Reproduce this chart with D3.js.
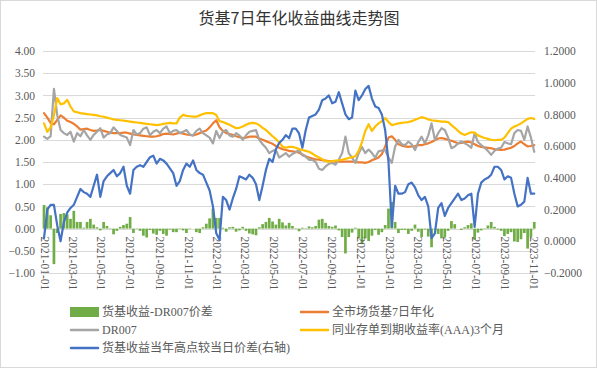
<!DOCTYPE html>
<html><head><meta charset="utf-8">
<script src="https://cdn.jsdelivr.net/npm/d3@7"></script>
<style>
html,body{margin:0;padding:0;background:#fff;}
svg{display:block;}
</style></head>
<body>
<svg id="chart" width="597" height="368"></svg>
<script>
const title = "货基7日年化收益曲线走势图";
const startDate = "2021-01-01";
const weekCount = 149;
const xTickLabels = ["2021-01-01","2021-03-01","2021-05-01","2021-07-01","2021-09-01","2021-11-01","2022-01-01","2022-03-01","2022-05-01","2022-07-01","2022-09-01","2022-11-01","2023-01-01","2023-03-01","2023-05-01","2023-07-01","2023-09-01","2023-11-01"];
const leftTicks = [-1,-0.5,0,0.5,1,1.5,2,2.5,3,3.5,4];
const rightTicks = [-0.2,0,0.2,0.4,0.6,0.8,1.0,1.2];
const seriesNames = ["货基收益-DR007价差","全市场货基7日年化","DR007","同业存单到期收益率(AAA)3个月","货基收益当年高点较当日价差(右轴)"];
const seriesColors = ["#70AD47","#ED7D31","#A5A5A5","#FFC000","#4472C4"];

// 全市场货基7日年化
const fundYield = [2.60,2.50,2.38,2.35,2.45,2.55,2.50,2.43,2.40,2.36,2.30,2.23,2.24,2.25,2.22,2.20,2.21,2.22,2.20,2.18,
2.16,2.15,2.15,2.15,2.16,2.16,2.14,2.12,2.11,2.10,2.09,2.08,2.07,2.07,2.08,2.10,2.13,2.14,2.13,2.12,
2.14,2.16,2.14,2.12,2.11,2.10,2.12,2.15,2.18,2.21,2.28,2.37,2.44,2.28,2.20,2.15,2.13,2.11,2.08,2.06,
2.04,2.05,2.07,2.07,2.07,2.03,2.00,1.97,1.94,1.91,1.86,1.82,1.79,1.77,1.75,1.74,1.73,1.71,1.67,1.63,
1.60,1.58,1.56,1.55,1.54,1.53,1.52,1.52,1.51,1.51,1.51,1.51,1.51,1.51,1.50,1.49,1.49,1.48,1.50,1.54,
1.57,1.60,1.68,1.85,2.05,2.08,2.00,1.90,1.87,1.85,1.84,1.85,1.86,1.88,1.88,1.90,1.92,1.95,1.99,2.03,
2.04,2.02,2.00,1.98,1.95,1.92,1.93,1.95,1.96,1.94,1.90,1.86,1.84,1.83,1.82,1.81,1.79,1.78,1.77,1.78,
1.80,1.82,1.86,1.92,1.96,1.90,1.85,1.86,1.88];

// DR007
const dr007 = [2.07,2.02,2.08,3.15,2.55,2.22,2.15,2.11,2.18,1.96,2.15,2.08,2.22,2.10,2.00,2.11,2.18,2.26,2.05,2.12,
2.15,2.28,2.20,2.11,2.08,2.05,1.88,2.22,2.12,2.15,2.25,2.28,2.10,2.18,2.22,2.15,2.25,2.30,2.15,2.20,
2.22,2.15,2.18,2.22,2.12,2.10,2.20,2.25,2.15,2.10,2.05,1.92,2.20,2.04,2.18,2.22,2.10,2.07,2.15,2.10,
2.00,2.10,2.18,2.20,2.22,2.00,1.90,1.82,1.70,1.75,1.77,1.60,1.65,1.70,1.62,1.68,1.72,1.77,1.65,1.62,
1.55,1.55,1.50,1.35,1.32,1.40,1.46,1.48,1.44,1.55,1.70,2.07,1.70,1.60,1.48,1.70,1.84,1.70,1.78,1.70,
1.60,1.74,1.76,1.77,1.60,1.48,1.85,2.00,1.90,1.88,1.96,1.90,1.77,1.95,2.07,1.92,2.10,2.37,2.00,2.15,
2.26,2.22,2.05,1.81,1.85,1.92,1.96,1.92,1.88,1.82,2.15,1.95,1.88,1.82,1.75,1.66,1.75,1.80,1.82,1.95,
1.92,1.90,2.15,2.22,2.20,2.00,2.30,2.05,1.73];

// 同业存单到期收益率(AAA)3个月
const ncdYield = [2.37,2.18,2.28,2.55,2.94,2.80,2.82,2.90,2.75,2.64,2.62,2.60,2.59,2.58,2.57,2.56,2.55,2.53,2.52,2.50,
2.48,2.46,2.45,2.44,2.43,2.42,2.41,2.40,2.39,2.38,2.37,2.36,2.35,2.34,2.33,2.34,2.36,2.37,2.38,2.37,
2.37,2.50,2.56,2.54,2.53,2.52,2.52,2.55,2.58,2.60,2.60,2.60,2.56,2.42,2.40,2.37,2.34,2.30,2.26,2.27,
2.30,2.34,2.37,2.38,2.37,2.33,2.27,2.22,2.15,2.08,2.02,1.94,1.85,1.82,1.84,1.84,1.82,1.79,1.77,1.75,
1.73,1.69,1.64,1.60,1.56,1.52,1.51,1.52,1.53,1.54,1.55,1.57,1.59,1.61,1.63,1.75,1.95,2.20,2.35,2.20,
2.30,2.37,2.42,2.49,2.40,2.33,2.35,2.37,2.38,2.39,2.40,2.42,2.45,2.48,2.51,2.49,2.46,2.44,2.43,2.42,
2.41,2.41,2.40,2.33,2.27,2.20,2.14,2.11,2.14,2.17,2.16,2.10,2.07,2.04,2.02,2.00,1.99,2.00,2.00,2.05,
2.15,2.25,2.30,2.33,2.37,2.42,2.47,2.49,2.47];

// 货基收益-DR007价差 (bars, left axis)
const spread = [0.53,0.48,0.30,-0.80,-0.10,0.33,0.35,0.32,0.22,0.40,0.15,0.15,0.02,0.15,0.22,0.09,0.03,-0.04,0.15,0.06,
0.01,-0.13,-0.05,0.04,0.08,0.11,0.26,-0.10,-0.01,-0.05,-0.16,-0.20,-0.03,-0.11,-0.14,-0.05,-0.12,-0.16,-0.02,-0.08,
-0.08,0.01,-0.04,-0.10,-0.01,0.00,-0.08,-0.10,0.03,0.11,0.23,0.45,0.24,0.24,0.02,-0.07,0.03,0.04,-0.07,-0.04,
0.04,-0.05,-0.11,-0.13,-0.15,0.03,0.10,0.15,0.24,0.16,0.09,0.22,0.14,0.07,0.13,0.06,0.01,-0.06,0.02,0.01,
0.05,0.03,0.06,0.20,0.22,0.13,0.06,0.04,0.07,-0.04,-0.19,-0.56,-0.19,-0.09,0.02,-0.21,-0.35,-0.22,-0.28,-0.16,
-0.03,-0.14,-0.08,0.08,0.45,0.60,0.15,-0.10,-0.03,-0.03,-0.12,-0.05,0.09,-0.07,-0.19,-0.02,-0.18,-0.42,-0.01,-0.12,
-0.22,-0.20,-0.05,0.17,0.10,0.00,-0.03,0.03,0.08,0.12,-0.25,-0.09,-0.04,0.01,0.07,0.15,0.04,-0.02,-0.05,-0.17,
-0.12,-0.08,-0.29,-0.30,-0.24,-0.10,-0.45,-0.19,0.15];

// 货基收益当年高点较当日价差 (right axis)
const gapToHigh = [0.02,0.20,0.23,0.23,0.10,0.00,0.12,0.18,0.21,0.23,0.28,0.33,0.31,0.30,0.28,0.35,0.42,0.28,0.38,0.41,
0.43,0.45,0.41,0.43,0.47,0.35,0.30,0.45,0.47,0.48,0.47,0.50,0.53,0.54,0.49,0.52,0.51,0.49,0.46,0.43,
0.35,0.38,0.45,0.49,0.47,0.51,0.45,0.43,0.42,0.37,0.32,0.22,0.05,0.01,0.28,0.26,0.20,0.27,0.33,0.41,
0.40,0.39,0.42,0.40,0.36,0.26,0.35,0.45,0.52,0.50,0.58,0.62,0.64,0.67,0.65,0.71,0.71,0.68,0.59,0.70,
0.78,0.79,0.80,0.83,0.89,0.90,0.92,0.87,0.88,0.94,0.87,0.80,0.77,0.78,0.95,0.89,0.92,0.96,0.98,0.90,
0.85,0.84,0.80,0.70,0.50,0.09,0.35,0.30,0.30,0.31,0.36,0.37,0.34,0.29,0.26,0.28,0.22,0.02,0.05,0.21,
0.24,0.16,0.21,0.24,0.27,0.30,0.26,0.27,0.29,0.30,0.09,0.30,0.37,0.39,0.40,0.42,0.47,0.47,0.45,0.39,
0.41,0.40,0.30,0.22,0.23,0.25,0.40,0.30,0.30];

const parse = d3.timeParse("%Y-%m-%d");
const t0 = parse(startDate);
const dates = d3.range(weekCount).map(i => d3.timeDay.offset(t0, 7 * i));

const svg = d3.select("#chart");
const W = 597, H = 368;
const plot = {left: 43, right: 535, top: 51, bottom: 273};

svg.append("rect").attr("x",0.5).attr("y",0.5).attr("width",W-1).attr("height",H-1)
  .attr("fill","#fff").attr("stroke","#d9d9d9");

const x = d3.scaleTime().domain([parse("2021-01-01"), parse("2023-11-01")]).range([44, 533.3]);
const yL = d3.scaleLinear().domain([-1, 4]).range([plot.bottom, plot.top]);
const yR = d3.scaleLinear().domain([-0.2, 1.2]).range([plot.bottom, plot.top]);

const axisFont = "'Liberation Serif','Times New Roman','Noto Sans CJK SC',serif";
const textColor = "#595959";

// title
svg.append("text").attr("x", 299).attr("y", 24).attr("text-anchor","middle")
  .attr("font-family","'Noto Sans CJK SC',sans-serif").attr("font-size",16)
  .attr("fill","#333").text(title);

// gridlines
svg.append("g").selectAll("line").data(leftTicks).join("line")
  .attr("x1", plot.left).attr("x2", plot.right)
  .attr("y1", d => Math.round(yL(d)) + 0.5).attr("y2", d => Math.round(yL(d)) + 0.5)
  .attr("stroke", "#d9d9d9").attr("stroke-width", 1);

// left axis
const gL = svg.append("g").attr("transform", `translate(${plot.left},0)`)
  .call(d3.axisLeft(yL).tickValues(leftTicks).tickFormat(d3.format(".2f")).tickSize(0).tickPadding(8));
gL.select(".domain").remove();
gL.selectAll("text").attr("font-family", axisFont).attr("font-size", 11.5).attr("fill", textColor);

// right axis
const gR = svg.append("g").attr("transform", `translate(${plot.right},0)`)
  .call(d3.axisRight(yR).tickValues(rightTicks).tickFormat(d3.format(".4f")).tickSize(0).tickPadding(9));
gR.select(".domain").remove();
gR.selectAll("text").attr("font-family", axisFont).attr("font-size", 11.5).attr("fill", textColor);

// bars
const barW = 2.7;
svg.append("g").selectAll("rect").data(spread).join("rect")
  .attr("x", (d,i) => x(dates[i]) - barW/2)
  .attr("width", barW)
  .attr("y", d => d >= 0 ? yL(d) : yL(0))
  .attr("height", d => Math.abs(yL(d) - yL(0)))
  .attr("fill", seriesColors[0]);

// x axis (labels next to zero line)
const gX = svg.append("g").attr("transform", `translate(0,${yL(0)})`)
  .call(d3.axisBottom(x).tickValues(xTickLabels.map(parse)).tickFormat(d3.timeFormat("%Y-%m-%d")).tickSize(0).tickPadding(0));
gX.select(".domain").remove();
gX.selectAll("text")
  .attr("font-family", axisFont).attr("font-size", 11.5).attr("fill", textColor)
  .attr("text-anchor","start")
  .attr("transform","rotate(90)")
  .attr("x", 8).attr("y", 0).attr("dy","0.33em");

// lines
function drawLine(values, scale, color) {
  const line = d3.line().x((d,i) => x(dates[i])).y(d => scale(d));
  svg.append("path").datum(values).attr("d", line)
    .attr("fill","none").attr("stroke", color).attr("stroke-width", 2.2)
    .attr("stroke-linejoin","round").attr("stroke-linecap","round");
}
drawLine(fundYield, yL, seriesColors[1]);
drawLine(dr007, yL, seriesColors[2]);
drawLine(ncdYield, yL, seriesColors[3]);
drawLine(gapToHigh, yR, seriesColors[4]);

// legend
const legendFont = "'Liberation Serif','Times New Roman','Noto Sans CJK SC',serif";
const legendItems = [
  {i:0, x:70, y:312, type:"rect"},
  {i:1, x:300, y:312, type:"line"},
  {i:2, x:70, y:330, type:"line"},
  {i:3, x:300, y:330, type:"line"},
  {i:4, x:70, y:348, type:"line"}
];
const lg = svg.append("g");
legendItems.forEach(it => {
  if (it.type === "rect") {
    lg.append("rect").attr("x", it.x).attr("y", it.y - 5).attr("width", 29).attr("height", 10)
      .attr("fill", seriesColors[it.i]);
  } else {
    lg.append("line").attr("x1", it.x + 1).attr("x2", it.x + 28).attr("y1", it.y).attr("y2", it.y)
      .attr("stroke", seriesColors[it.i]).attr("stroke-width", 2.5).attr("stroke-linecap","round");
  }
  lg.append("text").attr("x", it.x + 32).attr("y", it.y).attr("dy","0.36em")
    .attr("font-family", legendFont).attr("font-size", 12).attr("fill", textColor)
    .text(seriesNames[it.i]);
});
</script>
</body></html>
